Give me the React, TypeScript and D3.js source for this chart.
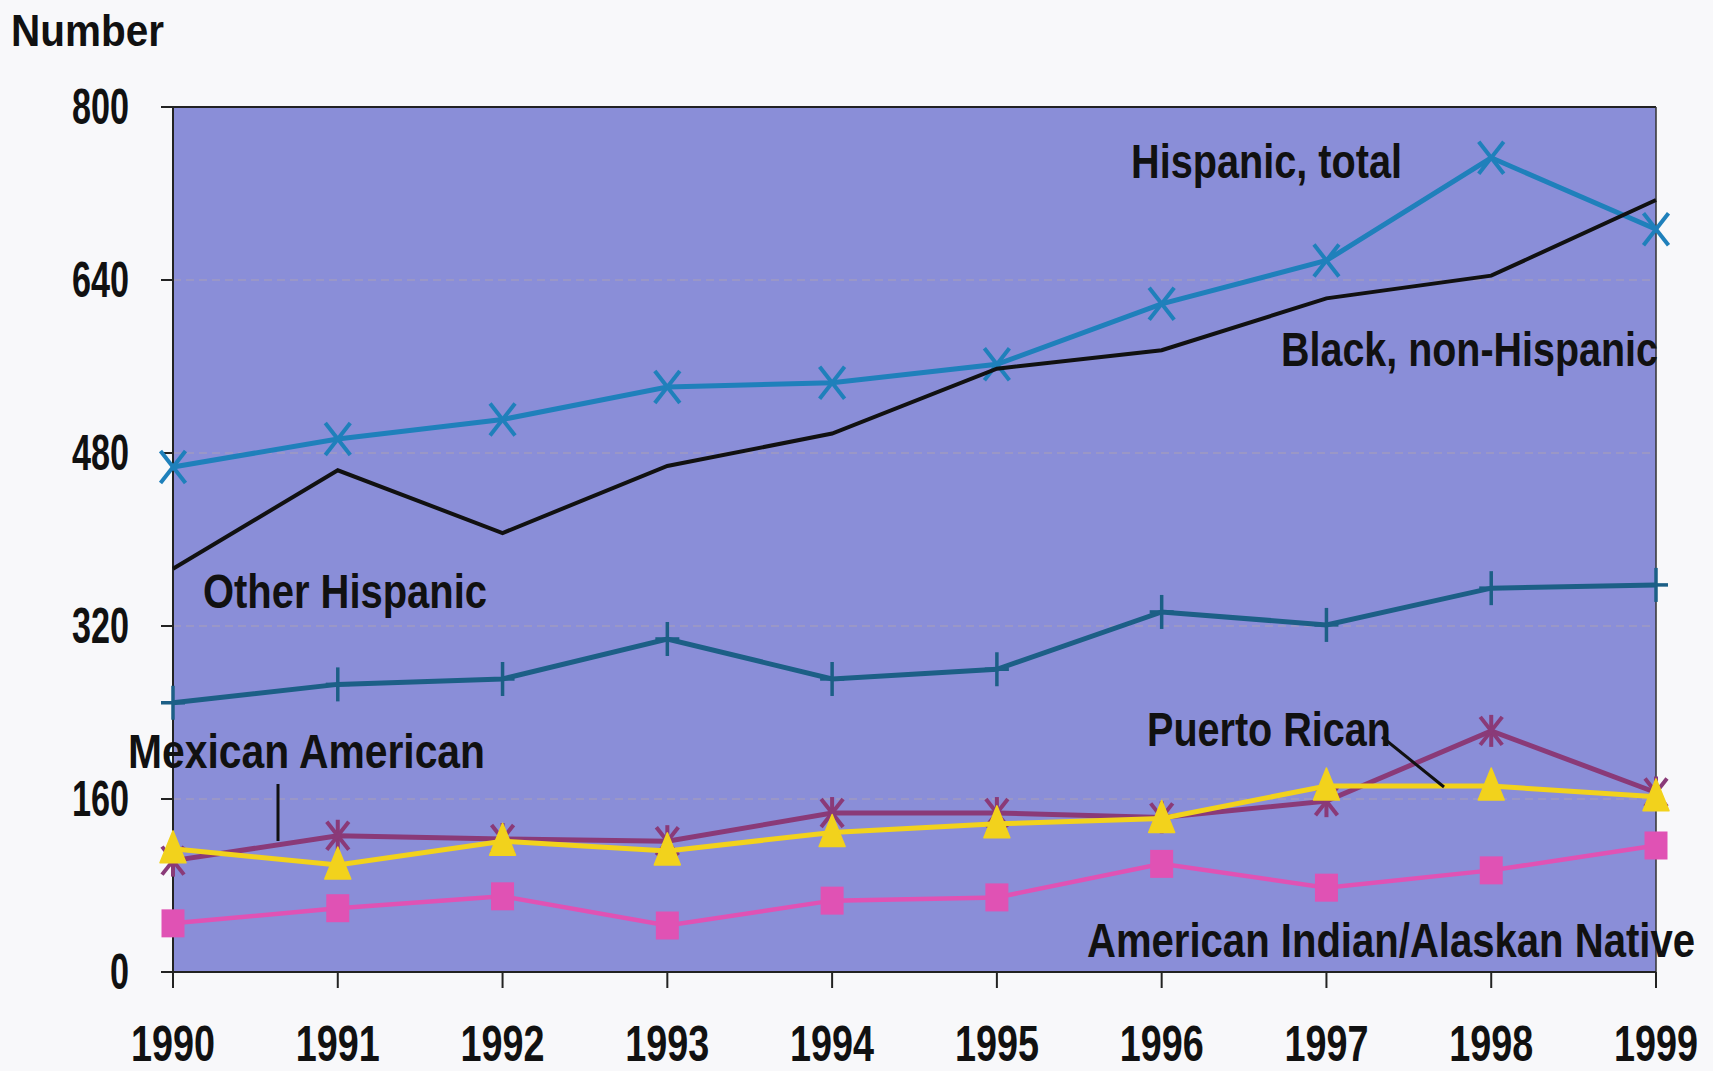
import React from "react";
import * as d3 from "d3";

const years = [1990, 1991, 1992, 1993, 1994, 1995, 1996, 1997, 1998, 1999];
const yTicks = [0, 160, 320, 480, 640, 800];
const hispanicTotal = [467, 493, 511, 541, 545, 562, 618, 658, 753, 687];
const blackNonHispanic = [373, 464, 406, 468, 498, 558, 575, 623, 644, 714];
const otherHispanic = [249, 266, 271, 308, 271, 280, 333, 321, 355, 358];
const puertoRican = [103, 126, 123, 121, 147, 147, 143, 158, 223, 166];
const mexicanAmerican = [114, 99, 121, 112, 129, 137, 142, 172, 172, 162];
const americanIndian = [45, 59, 70, 43, 66, 69, 100, 78, 94, 117];

const W = 1713;
const H = 1071;
const L = 173;
const R = 1656;
const T = 107;
const B = 972;

const FONT = "'Liberation Sans', Arial, sans-serif";

function Label({ x, y, size, len, children }: any) {
  return (
    <text
      x={x}
      y={y}
      fontFamily={FONT}
      fontWeight="bold"
      fontSize={size}
      textLength={len}
      lengthAdjust="spacingAndGlyphs"
      fill="#111"
    >
      {children}
    </text>
  );
}

export default function App() {
  const x = d3.scaleLinear().domain([1990, 1999]).range([L, R]);
  const y = d3.scaleLinear().domain([0, 800]).range([B, T]);
  const line = (vals: number[]) =>
    d3
      .line<number>()
      .x((_, i) => x(years[i]))
      .y((v) => y(v))(vals) as string;

  const blue = "#1f80bb";
  const teal = "#1c5f86";
  const purple = "#8a3a78";
  const yellow = "#f2d21c";
  const pink = "#e052b4";

  return (
    <svg
      width={W}
      height={H}
      style={{ position: "absolute", left: 0, top: 0, background: "#f8f8fa" }}
    >
      <rect x={L} y={T} width={R - L} height={B - T} fill="#8a8ed8" />
      {yTicks.filter((t) => t > 0 && t < 800).map((t) => (
        <line
          key={"g" + t}
          x1={L}
          x2={R}
          y1={y(t)}
          y2={y(t)}
          stroke="#b7a8a8"
          strokeWidth={1.2}
          strokeDasharray="8,5"
          opacity={0.7}
        />
      ))}
      {/* frame */}
      <line x1={L - 12} x2={R} y1={T} y2={T} stroke="#222" strokeWidth={2} />
      <line x1={R} x2={R} y1={T} y2={B} stroke="#333" strokeWidth={1.5} />
      <line x1={L} x2={L} y1={T} y2={B} stroke="#222" strokeWidth={2} />
      <line x1={L - 12} x2={R} y1={B} y2={B} stroke="#222" strokeWidth={2} />
      {yTicks.map((t) => (
        <line key={"yt" + t} x1={L - 12} x2={L} y1={y(t)} y2={y(t)} stroke="#222" strokeWidth={2} />
      ))}
      {years.map((yr) => (
        <line key={"xt" + yr} x1={x(yr)} x2={x(yr)} y1={B} y2={B + 16} stroke="#222" strokeWidth={2} />
      ))}
      {yTicks.map((t) => {
        const s = String(t);
        const len = s.length * 19;
        return (
          <Label key={"yl" + t} x={129 - len} y={y(t) + 17} size={50} len={len}>
            {s}
          </Label>
        );
      })}
      {years.map((yr) => (
        <Label key={"xl" + yr} x={x(yr) - 42} y={1061} size={50} len={84}>
          {String(yr)}
        </Label>
      ))}
      <Label x={11} y={46} size={44} len={153}>Number</Label>

      {/* American Indian */}
      <path d={line(americanIndian)} fill="none" stroke={pink} strokeWidth={4.5} />
      {americanIndian.map((v, i) => (
        <rect key={"ai" + i} x={x(years[i]) - 11.5} y={y(v) - 14} width={23} height={28} fill={pink} />
      ))}
      {/* Puerto Rican */}
      <path d={line(puertoRican)} fill="none" stroke={purple} strokeWidth={5} />
      {puertoRican.map((v, i) => {
        const cx = x(years[i]);
        const cy = y(v);
        return (
          <g key={"pr" + i} stroke={purple} strokeWidth={4}>
            <line x1={cx} x2={cx} y1={cy - 16} y2={cy + 16} />
            <line x1={cx - 11} x2={cx + 11} y1={cy - 14} y2={cy + 14} />
            <line x1={cx - 11} x2={cx + 11} y1={cy + 14} y2={cy - 14} />
          </g>
        );
      })}
      {/* Mexican American */}
      <path d={line(mexicanAmerican)} fill="none" stroke={yellow} strokeWidth={5} />
      {mexicanAmerican.map((v, i) => {
        const cx = x(years[i]);
        const cy = y(v);
        return (
          <path
            key={"ma" + i}
            d={`M${cx},${cy - 18}L${cx + 13},${cy + 14}L${cx - 13},${cy + 14}Z`}
            fill={yellow}
            stroke={yellow}
            strokeWidth={1.5}
            strokeLinejoin="round"
          />
        );
      })}
      {/* Other Hispanic */}
      <path d={line(otherHispanic)} fill="none" stroke={teal} strokeWidth={5} />
      {otherHispanic.map((v, i) => {
        const cx = x(years[i]);
        const cy = y(v);
        return (
          <g key={"oh" + i} stroke={teal} strokeWidth={3.5}>
            <line x1={cx} x2={cx} y1={cy - 17} y2={cy + 17} />
            <line x1={cx - 12} x2={cx + 12} y1={cy} y2={cy} />
          </g>
        );
      })}
      {/* Hispanic total */}
      <path d={line(hispanicTotal)} fill="none" stroke={blue} strokeWidth={5} />
      {hispanicTotal.map((v, i) => {
        const cx = x(years[i]);
        const cy = y(v);
        return (
          <g key={"ht" + i} stroke={blue} strokeWidth={4}>
            <line x1={cx - 12.5} x2={cx + 12.5} y1={cy - 16} y2={cy + 16} />
            <line x1={cx - 12.5} x2={cx + 12.5} y1={cy + 16} y2={cy - 16} />
          </g>
        );
      })}
      {/* Black non-Hispanic */}
      <path d={line(blackNonHispanic)} fill="none" stroke="#111" strokeWidth={4} />

      {/* leader lines */}
      <line x1={278} x2={278} y1={784} y2={841} stroke="#111" strokeWidth={3} />
      <line x1={1382} x2={1444} y1={737} y2={787} stroke="#111" strokeWidth={3} />

      <Label x={1131} y={178} size={48} len={271}>Hispanic, total</Label>
      <Label x={1281} y={366} size={48} len={377}>Black, non-Hispanic</Label>
      <Label x={203} y={608} size={48} len={284}>Other Hispanic</Label>
      <Label x={128} y={768} size={48} len={357}>Mexican American</Label>
      <Label x={1147} y={746} size={48} len={244}>Puerto Rican</Label>
      <Label x={1087} y={957} size={48} len={608}>American Indian/Alaskan Native</Label>
    </svg>
  );
}
